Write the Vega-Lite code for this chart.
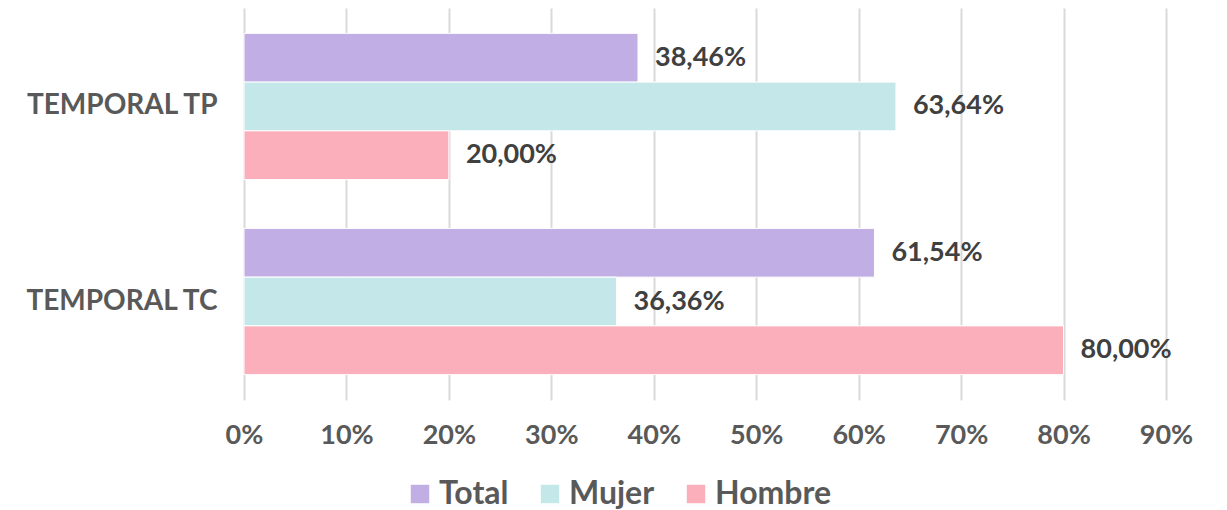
{
  "$schema": "https://vega.github.io/schema/vega-lite/v6.json",
  "width": 922,
  "height": 392,
  "autosize": {"type": "none"},
  "padding": {"left": 244, "top": 8, "right": 61, "bottom": 110},
  "background": "white",
  "config": {
    "font": "Lato",
    "view": {"stroke": null},
    "locale": {"number": {"decimal": ",", "thousands": ".", "grouping": [3], "currency": ["", " €"]}}
  },
  "data": {
    "values": [
      {"categoria": "TEMPORAL TP", "serie": "Total", "valor": 0.3846},
      {"categoria": "TEMPORAL TP", "serie": "Mujer", "valor": 0.6364},
      {"categoria": "TEMPORAL TP", "serie": "Hombre", "valor": 0.2},
      {"categoria": "TEMPORAL TC", "serie": "Total", "valor": 0.6154},
      {"categoria": "TEMPORAL TC", "serie": "Mujer", "valor": 0.3636},
      {"categoria": "TEMPORAL TC", "serie": "Hombre", "valor": 0.8}
    ]
  },
  "encoding": {
    "y": {
      "field": "categoria", "type": "nominal", "sort": ["TEMPORAL TP", "TEMPORAL TC"],
      "scale": {"paddingInner": 0.25, "paddingOuter": 0.13},
      "axis": {"title": null, "ticks": false, "domain": false, "labelLimit": 400, "labelFont": "Lato", "labelFontWeight": "bold", "labelFontSize": 28, "labelColor": "#595959", "labelPadding": 27}
    },
    "yOffset": {"field": "serie", "type": "nominal", "sort": ["Total", "Mujer", "Hombre"], "scale": {"paddingInner": 0, "paddingOuter": 0}},
    "x": {
      "field": "valor", "type": "quantitative",
      "scale": {"domain": [0, 0.9], "nice": false},
      "axis": {"title": null, "format": ".0%", "values": [0, 0.1, 0.2, 0.3, 0.4, 0.5, 0.6, 0.7, 0.8, 0.9], "ticks": false, "domain": false, "grid": true, "gridColor": "#D9D9D9", "gridWidth": 2, "labelFlush": false, "labelOverlap": false, "labelFont": "Lato", "labelFontWeight": "bold", "labelFontSize": 27, "labelColor": "#595959", "labelPadding": 22}
    }
  },
  "layer": [
    {
      "mark": {"type": "bar", "stroke": "white", "strokeWidth": 1},
      "encoding": {
        "color": {
          "field": "serie", "type": "nominal", "sort": ["Total", "Mujer", "Hombre"],
          "scale": {"domain": ["Total", "Mujer", "Hombre"], "range": ["#C0AEE4", "#C4E8E9", "#FBAFBA"]},
          "legend": {"title": null, "orient": "none", "legendX": 160, "legendY": 470, "direction": "horizontal", "symbolType": "square", "symbolSize": 340, "symbolStrokeWidth": 0, "labelFont": "Lato", "labelFontWeight": "bold", "labelFontSize": 32, "labelColor": "#595959", "labelOffset": 3, "columnPadding": 25}
        }
      }
    },
    {
      "mark": {"type": "text", "align": "left", "baseline": "middle", "dx": 17, "font": "Lato", "fontWeight": "bold", "fontSize": 27, "color": "#404040"},
      "encoding": {"text": {"field": "valor", "type": "quantitative", "format": ".2%"}}
    }
  ]
}
